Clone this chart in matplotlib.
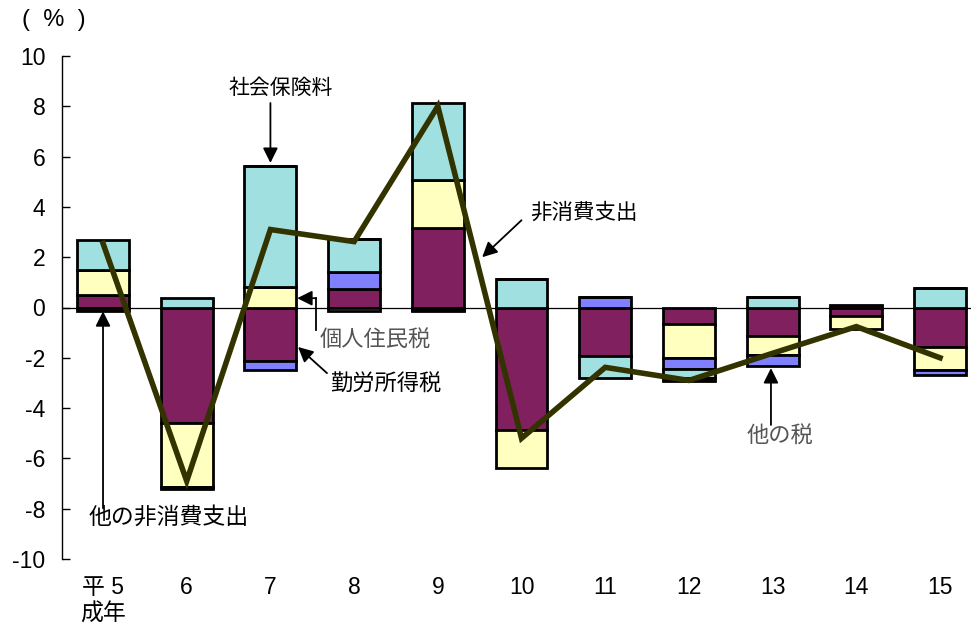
import matplotlib
matplotlib.use("Agg")
import matplotlib.pyplot as plt
import numpy as np
from matplotlib.patches import FancyArrowPatch

plt.rcParams['font.family'] = ['Liberation Sans', 'Noto Sans CJK JP']
plt.rcParams['axes.unicode_minus'] = False

# Year labels (Heisei 5 .. 15)
years = ["平 5\n成年", "6", "7", "8", "9", "10", "11", "12", "13", "14", "15"]

# Contributions to the change in non-consumption expenditure (percentage points)
kinro_shotokuzei = [0.50, -4.60, -2.12, 0.72, 3.18, -4.88, -1.94, -0.64, -1.14, -0.33, -1.57]
kojin_juminzei = [1.00, -2.55, 0.82, -0.14, 1.88, -1.52, 0.00, -1.36, -0.73, -0.51, -0.90]
sonota_zei = [0.00, 0.00, -0.37, 0.70, -0.10, 0.00, 0.40, -0.45, -0.46, 0.00, -0.23]
shakai_hokenryo = [1.17, 0.36, 4.80, 1.32, 3.08, 1.15, -0.86, -0.37, 0.42, 0.00, 0.76]
sonota_hishohi = [-0.12, -0.08, 0.00, 0.00, -0.05, 0.00, 0.00, -0.10, 0.00, 0.08, 0.00]

# Total change in non-consumption expenditure (%)
hishohi_shishutsu = [2.55, -6.90, 3.10, 2.62, 8.00, -5.20, -2.38, -2.90, -1.82, -0.76, -2.00]

series = [
    (kinro_shotokuzei, "#80205F"),
    (kojin_juminzei, "#FFFFC0"),
    (sonota_zei, "#8080FF"),
    (shakai_hokenryo, "#A0E0E0"),
    (sonota_hishohi, "#800000"),
]

fig = plt.figure(figsize=(9.71, 6.32), dpi=100)
ax = fig.add_axes([62 / 971, 1 - 559 / 632, 1 - 62 / 971, (559 - 56) / 632])

x = np.arange(len(years))
pos_base = np.zeros(len(years))
neg_base = np.zeros(len(years))
for vals, color in series:
    v = np.array(vals)
    bottoms = np.where(v >= 0, pos_base, neg_base)
    ax.bar(x, v, bottom=bottoms, width=0.62, color=color,
           edgecolor="black", linewidth=2.0, zorder=3)
    pos_base = pos_base + np.where(v > 0, v, 0)
    neg_base = neg_base + np.where(v < 0, v, 0)

ax.axhline(0, color="black", linewidth=0.9, zorder=1)

ax.plot(x, hishohi_shishutsu, color="#333300", linewidth=4.0,
        solid_joinstyle="miter", zorder=5)

ax.set_xlim(-0.49, 10.37)
ax.set_ylim(-10, 10)
ax.set_yticks(np.arange(-10, 11, 2))
ax.set_yticklabels([str(v) for v in range(-10, 11, 2)])
ax.set_xticks(x)
ax.set_xticklabels(years, linespacing=1.25)
ax.tick_params(axis="y", direction="in", length=6, width=1, pad=12, labelsize=16.5)
ax.tick_params(axis="x", length=0, pad=12, labelsize=16.5)
for s in ("top", "right", "bottom"):
    ax.spines[s].set_visible(False)
ax.spines["left"].set_linewidth(1)

fig.text(54 / 971, 1 - 20 / 632, "(  %  )", ha="center", va="center", fontsize=17)


def arrow(x0, y0, x1, y1):
    ax.add_patch(FancyArrowPatch(
        (x0, y0), (x1, y1),
        arrowstyle="-|>,head_length=0.5,head_width=0.25",
        mutation_scale=18, color="black", linewidth=1.3,
        shrinkA=0, shrinkB=0, zorder=6))


txt = dict(va="center", zorder=7)

# 社会保険料
ax.text(2.12, 8.73, "社会保険料", ha="center", fontsize=15, **txt)
arrow(2.0, 8.13, 2.0, 5.75)

# 非消費支出
ax.text(5.10, 3.75, "非消費支出", ha="left", fontsize=15.5, **txt)
arrow(5.0, 3.47, 4.53, 2.0)

# 個人住民税 (elbow leader)
ax.text(2.59, -1.32, "個人住民税", ha="left", color="#555555", fontsize=16, **txt)
ax.plot([2.545, 2.545], [-0.9, 0.37], color="black", linewidth=1.3, zorder=6)
arrow(2.545, 0.37, 2.32, 0.37)

# 勤労所得税
ax.text(2.71, -3.09, "勤労所得税", ha="left", fontsize=16, **txt)
arrow(2.676, -2.61, 2.33, -1.57)

# 他の非消費支出
ax.text(0.78, -8.34, "他の非消費支出", ha="center", fontsize=16.5, **txt)
arrow(0.0, -7.98, 0.0, -0.15)

# 他の税
ax.text(8.09, -5.15, "他の税", ha="center", color="#555555", fontsize=16, **txt)
arrow(7.98, -4.67, 7.98, -2.41)

fig.savefig("out.png", dpi=100)
